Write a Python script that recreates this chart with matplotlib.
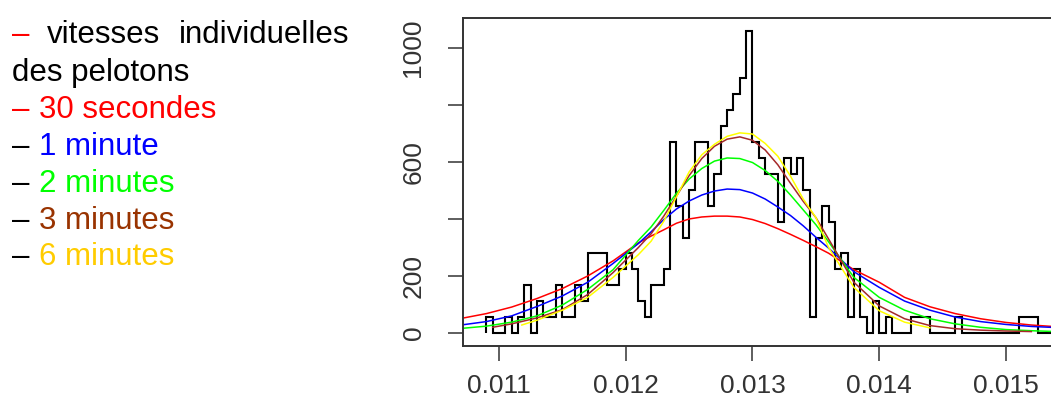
import numpy as np
import matplotlib
matplotlib.use("Agg")
import matplotlib.pyplot as plt

plt.rcParams['font.family'] = ['Liberation Sans', 'DejaVu Sans']

# histogram of individual speeds (density), bins of 0.00005 starting at 0.0109
bin_start = 0.0109
bin_width = 0.00005
hist_density = [56, 0, 0, 56, 0, 56, 167, 0, 112, 56,
                56, 167, 56, 56, 167, 112, 279, 279, 279, 167,
                167, 223, 279, 223, 112, 56, 167, 167, 223, 670,
                446, 335, 502, 670, 670, 446, 558, 725, 781, 837,
                893, 1060, 670, 614, 558, 558, 391, 614, 558, 614,
                502, 56, 335, 446, 391, 223, 279, 56, 223, 56,
                0, 112, 0, 56, 0, 0, 0, 56, 56, 56,
                0, 0, 0, 0, 56, 0, 0, 0, 0, 0,
                0, 0, 0, 0, 56, 56, 56, 0, 0, 0]

# fitted densities
x_grid = [0.0107, 0.0109, 0.0111, 0.0113, 0.0115, 0.0117, 0.0119, 0.0121,
          0.0122, 0.0123, 0.0124, 0.0125, 0.0126, 0.0127, 0.0128, 0.0129,
          0.0130, 0.0131, 0.0132, 0.0133, 0.0134, 0.0135, 0.0136, 0.0138,
          0.0140, 0.0142, 0.0144, 0.0146, 0.0148, 0.0150, 0.0152, 0.0154]
red_30s = [51, 68, 91, 121, 156, 200, 253, 316,
           340, 362, 385, 400, 407, 410, 410, 407,
           398, 384, 366, 346, 325, 303, 280, 222,
           178, 125, 92, 68, 50, 37, 28, 22]
blue_1min = [28, 40, 60, 93, 130, 178, 244, 314,
             355, 398, 435, 463, 484, 498, 505, 503,
             491, 470, 442, 412, 376, 336, 298, 215,
             160, 112, 80, 56, 40, 30, 23, 19]
green_2min = [16, 24, 38, 60, 98, 153, 222, 325,
              372, 430, 490, 540, 577, 603, 614, 612,
              598, 570, 532, 484, 432, 380, 320, 195,
              125, 80, 50, 32, 20, 12, 8, 5]

x_brown = [0.01095, 0.0111, 0.0113, 0.0115, 0.0117, 0.0119, 0.0121,
           0.0122, 0.0123, 0.0124, 0.0125, 0.0126, 0.0127, 0.0128, 0.0129,
           0.0130, 0.0131, 0.0132, 0.0133, 0.0134, 0.0135, 0.0136, 0.0138,
           0.0140, 0.0142, 0.0144, 0.0146, 0.0148, 0.0150, 0.0152]
brown_3min = [20, 32, 53, 82, 135, 212, 300,
              348, 410, 480, 552, 612, 655, 680, 688,
              676, 642, 590, 525, 462, 405, 330, 178,
              95, 50, 26, 15, 10, 7, 5]

x_yellow = [0.01118, 0.0113, 0.0115, 0.0117, 0.0119, 0.0121,
            0.0122, 0.0123, 0.0124, 0.0125, 0.0126, 0.0127, 0.0128, 0.0129,
            0.0130, 0.0131, 0.0132, 0.0133, 0.0134, 0.0135, 0.0136, 0.0138,
            0.0140, 0.0142, 0.0144]
yellow_6min = [28, 45, 80, 125, 195, 275,
               322, 392, 478, 565, 625, 662, 690, 702,
               698, 665, 620, 550, 470, 405, 300, 160,
               78, 38, 18]

x_ticks = [0.011, 0.012, 0.013, 0.014, 0.015]
y_ticks = [0, 200, 400, 600, 800, 1000]
y_labels = ['0', '200', '', '600', '', '1000']

W, H = 1051, 408
fig = plt.figure(figsize=(W / 100, H / 100), dpi=100)
# axes runs past the right border, as in the cropped original
ax = fig.add_axes([463 / W, (H - 346) / H, (1070 - 463) / W, (346 - 18) / H])

edges = bin_start + bin_width * np.arange(len(hist_density) + 1)
ax.stairs(hist_density, edges, baseline=0, color='black', lw=1.5)

ax.plot(x_grid, red_30s, color='#FF0000', lw=1.1)
ax.plot(x_grid, blue_1min, color='#0000FF', lw=1.1)
ax.plot(x_grid, green_2min, color='#00FF00', lw=1.1)
ax.plot(x_brown, brown_3min, color='#A52A2A', lw=1.1)
ax.plot(x_yellow, yellow_6min, color='#FFFF00', lw=1.1)

ax.set_xlim(0.010716, 0.015505)
ax.set_ylim(-45.6, 1105)
ax.set_xticks(x_ticks)
ax.set_xticklabels([f"{v:.3f}" for v in x_ticks])
ax.set_yticks(y_ticks)
ax.set_yticklabels(y_labels)
plt.setp(ax.get_yticklabels(), rotation=90, va='center', ha='right')
ax.tick_params(length=11, width=1.1, color='#333333', labelsize=19,
               labelcolor='#333333')
ax.tick_params(axis='x', pad=9)
ax.tick_params(axis='y', pad=16)
for sp in ax.spines.values():
    sp.set_linewidth(1.4)
    sp.set_color('#333333')

# legend text on the left
fs = 22.5
def px(x, y):
    return x / W, 1 - y / H

fig.text(*px(12, 43), '–', color='#FF0000', fontsize=fs)
fig.text(*px(47, 43), 'vitesses', color='black', fontsize=fs)
fig.text(*px(349, 43), 'individuelles', color='black', fontsize=fs, ha='right')
fig.text(*px(12, 81), 'des pelotons', color='black', fontsize=fs)
rows = [('30 secondes', '#FF0000', '#FF0000', 118),
        ('1 minute', '#0000FF', 'black', 155),
        ('2 minutes', '#00FF00', 'black', 192),
        ('3 minutes', '#993300', 'black', 229),
        ('6 minutes', '#FFCC00', 'black', 265)]
for label, col, dash_col, yb in rows:
    fig.text(*px(12, yb), '–', color=dash_col, fontsize=fs)
    fig.text(*px(39, yb), label, color=col, fontsize=fs)

fig.savefig('out.png', dpi=100)
